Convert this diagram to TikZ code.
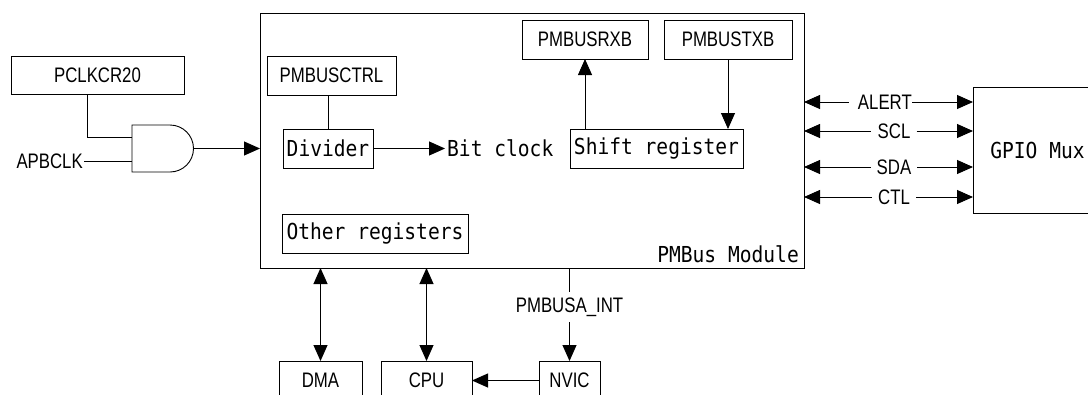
\documentclass[tikz,border=0pt]{standalone}
\usepackage{fontspec}
\usetikzlibrary{arrows.meta}
\newfontfamily\capf{Liberation Sans}[FakeStretch=0.8]
\newfontfamily\monof{DejaVu Sans Mono}[FakeStretch=0.89]
\tikzset{
  box/.style={draw, line width=0.9pt, inner sep=0pt, outer sep=0pt},
  capt/.style={font=\capf\fontsize{21}{23}\selectfont, text=black},
  mono/.style={font=\monof\fontsize{22}{24}\selectfont, text=black},
  conn/.style={line width=0.9pt},
  arr/.style={conn, -{Triangle[length=16pt,width=14pt]}},
  rarr/.style={conn, {Triangle[length=16pt,width=14pt]}-},
  dbl/.style={conn, {Triangle[length=16pt,width=14pt]}-{Triangle[length=16pt,width=14pt]}},
}
\begin{document}
\begin{tikzpicture}[x=1pt,y=-1pt]
\useasboundingbox (0,0) rectangle (1088,394);
\clip (0,0) rectangle (1088,394);
\fill[white] (0,0) rectangle (1088,394);

% left side
\node[box, capt, minimum width=173pt, minimum height=38pt] (pclk) at (97.5,75) {PCLKCR20};
\node[capt, inner sep=1pt, anchor=east] (apb) at (84,161) {APBCLK};
\draw[line width=0.9pt] (132,125) -- (170,125) arc(-90:90:23.5) -- (132,172) -- cycle;
\coordinate (andin1) at (132,137);
\coordinate (andin2) at (132,161);
\coordinate (andout) at (193.5,148.5);
\draw[conn] ([xshift=-10.5pt]pclk.south) |- (andin1);
\draw[conn] (apb.east) -- (andin2);

% module
\node[box, minimum width=544pt, minimum height=255pt] (mod) at (532,140.5) {};
\draw[arr] (andout) -- (andout -| mod.west);
\node[mono, anchor=base east, inner sep=0pt] (modlab) at (799,262) {PMBus Module};

\node[box, capt, minimum width=129pt, minimum height=39pt] (ctrl) at (331.5,75.5) {PMBUSCTRL};
\node[box, mono, minimum width=90pt, minimum height=39pt] (div) at (328,148.5) {Divider};
\node[mono, inner xsep=2pt, inner ysep=0pt, anchor=west] (bit) at (445,148.5) {Bit clock};
\node[box, mono, minimum width=173pt, minimum height=39pt] (shift) at (656.5,148.5) {Shift register};
\node[box, capt, minimum width=126pt, minimum height=39pt] (rxb) at (585,39.5) {PMBUSRXB};
\node[box, capt, minimum width=128pt, minimum height=39pt] (txb) at (728,39.5) {PMBUSTXB};
\node[box, mono, minimum width=186pt, minimum height=39pt] (other) at (375,233.5) {Other registers};

\draw[conn] (ctrl.south -| div.north) -- (div.north);
\draw[arr] (div.east) -- (bit.west);
\draw[arr] (shift.north -| rxb.south) -- (rxb.south);
\draw[arr] (txb.south) -- (txb.south |- shift.north);

% right side
\node[box, minimum width=129pt, minimum height=126pt] (gpio) at (1037.5,150) {};
\node[mono, inner sep=0pt] (gpiolab) at (1037.5,150) {GPIO Mux};

\node[capt, inner xsep=0pt, inner ysep=0pt, anchor=east] (alert) at (912,102) {ALERT};
\node[capt, inner xsep=6pt, inner ysep=0pt] (scl) at (894,131) {SCL};
\node[capt, inner xsep=6pt, inner ysep=0pt] (sda) at (894,167) {SDA};
\node[capt, inner xsep=6pt, inner ysep=0pt] (ctl) at (894,197) {CTL};
\foreach \s in {scl,sda,ctl}{
  \draw[rarr] (mod.east |- \s) -- (\s.west);
  \draw[arr] (\s.east) -- (gpio.west |- \s);
}
\draw[rarr] (mod.east |- alert) -- ([xshift=-9pt]alert.west);
\draw[arr] (alert.east) -- (gpio.west |- alert);

% bottom
\node[box, capt, minimum width=83pt, minimum height=39pt] (dma) at (320.5,380.5) {DMA};
\node[box, capt, minimum width=91pt, minimum height=39pt] (cpu) at (426.5,380.5) {CPU};
\node[box, capt, minimum width=61pt, minimum height=39pt] (nvic) at (569.5,380.5) {NVIC};
\node[capt, inner xsep=0pt, inner ysep=0pt, minimum height=30pt] (int) at (569.5,307) {PMBUSA\_INT};

\draw[dbl] (dma.north |- mod.south) -- (dma.north);
\draw[dbl] (cpu.north |- mod.south) -- (cpu.north);
\draw[conn] (nvic.north |- mod.south) -- (int.north);
\draw[arr] (int.south) -- (nvic.north);
\draw[arr] (nvic.west) -- (cpu.east);
\end{tikzpicture}
\end{document}
